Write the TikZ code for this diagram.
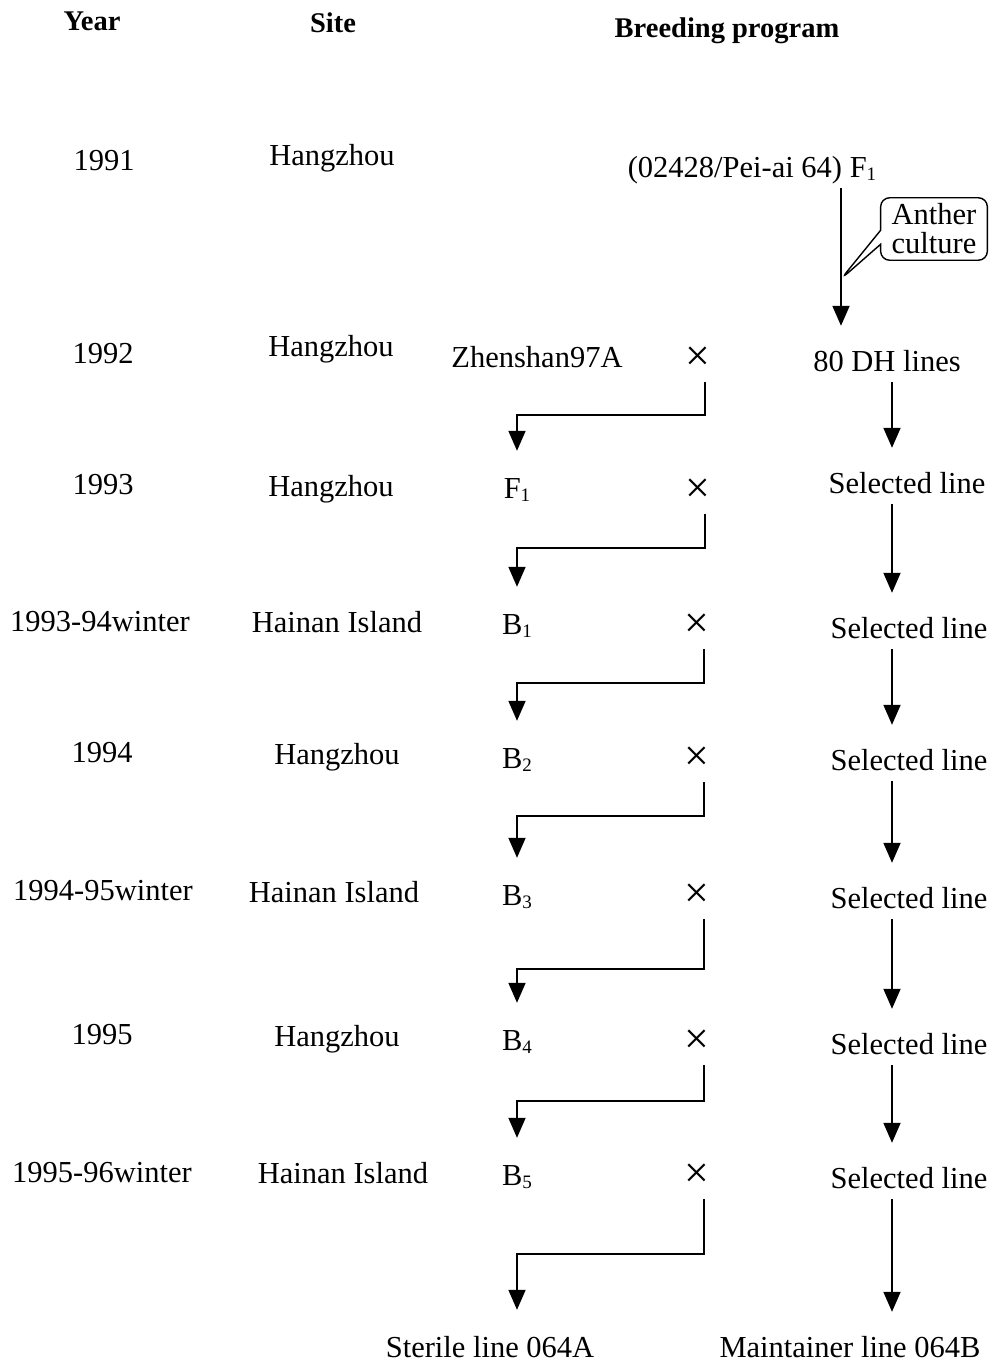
\documentclass[tikz,border=0pt]{standalone}
\usepackage{fontspec}
\setmainfont{Liberation Serif}
\usetikzlibrary{arrows.meta,shapes.callouts}

\newcommand{\sub}[1]{\raisebox{-0.25ex}{\fontsize{19}{19}\selectfont #1}}

\tikzset{
  lbl/.style={inner sep=0pt, text height=21pt, text depth=7pt, yshift=-3pt, font=\fontsize{30.5}{36}\selectfont},
  head/.style={lbl, font=\fontsize{28.5}{34}\selectfont\bfseries},
  xmark/.style={lbl, yshift=-5pt, font=\fontsize{44}{44}\selectfont},
  arr/.style={line width=1.8pt, -{Triangle[width=17pt,length=20pt]}},
  cross/.style={arr, shorten <=5pt, shorten >=26pt},
  down/.style={arr, shorten <=4pt, shorten >=24pt},
}

\begin{document}
\begin{tikzpicture}[x=1pt,y=-1pt]
\useasboundingbox (0,0) rectangle (993,1366);
% headings
\node[head] (hyear) at (92,20) {Year};
\node[head] (hsite) at (333,22) {Site};
\node[head] (hprog) at (727,27) {Breeding program};
% years
\node[lbl] (y1) at (104,160) {1991};
\node[lbl] (y2) at (103,353) {1992};
\node[lbl] (y3) at (103,484) {1993};
\node[lbl] (y4) at (100,621) {1993-94winter};
\node[lbl] (y5) at (102,752) {1994};
\node[lbl] (y6) at (103,890) {1994-95winter};
\node[lbl] (y7) at (102,1034) {1995};
\node[lbl] (y8) at (102,1172) {1995-96winter};
% sites
\node[lbl] (p1) at (332,155) {Hangzhou};
\node[lbl] (p2) at (331,346) {Hangzhou};
\node[lbl] (p3) at (331,486) {Hangzhou};
\node[lbl] (p4) at (337,622) {Hainan Island};
\node[lbl] (p5) at (337,754) {Hangzhou};
\node[lbl] (p6) at (334,892) {Hainan Island};
\node[lbl] (p7) at (337,1036) {Hangzhou};
\node[lbl] (p8) at (343,1173) {Hainan Island};
% breeding program
\node[lbl] (pa) at (752,167) {(02428/Pei-ai 64) F\sub{1}};
\coordinate (ac) at (841,279);
\node[rectangle callout, draw, line width=1.4pt, rounded corners=9pt,
  callout absolute pointer={(ac)}, callout pointer width=14pt,
  align=center, inner xsep=11pt, inner ysep=6pt,
  font=\fontsize{30.5}{29}\selectfont] (anther) at (934,229) {Anther\\culture};
\node[lbl] (zs) at (537,357) {Zhenshan97A};
\node[xmark] (x1) at (698,355) {×};
\node[lbl] (dh) at (887,361) {80 DH lines};
\node[lbl] (f1) at (517,488) {F\sub{1}};
\node[xmark] (x2) at (698,487) {×};
\node[lbl] (s1) at (907,483) {Selected line};
\node[lbl] (b1) at (517,624) {B\sub{1}};
\node[xmark] (x3) at (697,622) {×};
\node[lbl] (s2) at (909,628) {Selected line};
\node[lbl] (b2) at (517,758) {B\sub{2}};
\node[xmark] (x4) at (697,755) {×};
\node[lbl] (s3) at (909,760) {Selected line};
\node[lbl] (b3) at (517,895) {B\sub{3}};
\node[xmark] (x5) at (697,892) {×};
\node[lbl] (s4) at (909,898) {Selected line};
\node[lbl] (b4) at (517,1040) {B\sub{4}};
\node[xmark] (x6) at (697,1038) {×};
\node[lbl] (s5) at (909,1044) {Selected line};
\node[lbl] (b5) at (517,1175) {B\sub{5}};
\node[xmark] (x7) at (697,1172) {×};
\node[lbl] (s6) at (909,1178) {Selected line};
\node[lbl] (sa) at (490,1347) {Sterile line 064A};
\node[lbl] (mb) at (850,1347) {Maintainer line 064B};
% anther culture arrow
\draw[arr, shorten <=4pt, shorten >=24pt] (pa.south -| ac) -- (dh.north -| ac);
% crosses
\draw[cross] ([xshift=7pt]x1.south) -- ++(0,38) -| (f1.north);
\draw[cross] ([xshift=7pt]x2.south) -- ++(0,39) -| (b1.north);
\draw[cross] ([xshift=7pt]x3.south) -- ++(0,39) -| (b2.north);
\draw[cross] ([xshift=7pt]x4.south) -- ++(0,39) -| (b3.north);
\draw[cross] ([xshift=7pt]x5.south) -- ++(0,55) -| (b4.north);
\draw[cross] ([xshift=7pt]x6.south) -- ++(0,41) -| (b5.north);
\draw[cross] ([xshift=7pt]x7.south) -- ++(0,60) -| (sa.north -| b5);
% selection
\coordinate (rc) at (892,0);
\draw[down] (dh.south -| rc) -- (s1.north -| rc);
\draw[down] (s1.south -| rc) -- (s2.north -| rc);
\draw[down] (s2.south -| rc) -- (s3.north -| rc);
\draw[down] (s3.south -| rc) -- (s4.north -| rc);
\draw[down] (s4.south -| rc) -- (s5.north -| rc);
\draw[down] (s5.south -| rc) -- (s6.north -| rc);
\draw[down] (s6.south -| rc) -- (mb.north -| rc);
\end{tikzpicture}
\end{document}
